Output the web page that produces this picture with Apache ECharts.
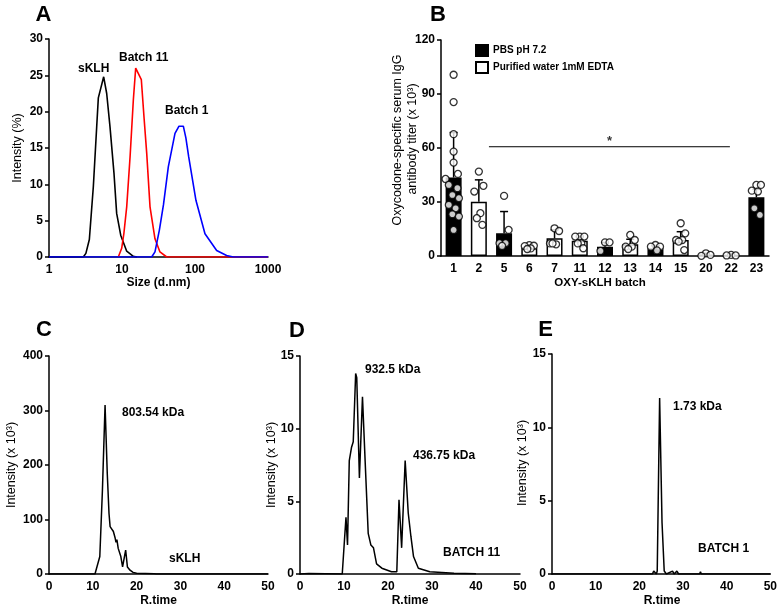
<!DOCTYPE html>
<html><head><meta charset="utf-8">
<script src="https://cdn.jsdelivr.net/npm/echarts@6/dist/echarts.min.js"></script>
<style>html,body{margin:0;padding:0;background:#fff}#c{width:780px;height:609px}</style>
</head><body><div id="c"></div>
<script>
// ---------- Panel A: DLS size distribution (x = size d.nm, y = intensity %) ----------
const dlsSKLH = [[1,0],[2.95,0],[3.2,0.5],[3.57,2.4],[4.05,9.7],[4.5,17.9],[4.74,21.9],[5.61,24.8],[6.17,22.5],[6.85,17.9],[7.77,11.5],[8.45,6.0],[9.6,3.0],[11.6,0.8],[14.3,0.1],[16,0]];
const dlsBatch11 = [[8.9,0],[9.9,1.2],[10.6,3.2],[11.6,6.9],[12.9,13.8],[14.3,21.6],[15.4,26],[16.1,25.8],[18.4,24.4],[20,19.3],[21.8,14.3],[24.2,6.9],[28.3,2.5],[33.1,0.7],[41,0],[1000,0]];
const dlsBatch1 = [[1,0],[25.5,0],[28.3,0.7],[32.5,3.7],[37,7.2],[43.1,12.4],[53.2,17],[60.4,18],[69.2,18],[75,16.4],[81.9,13.8],[103,7.8],[137,3.2],[198,0.9],[271,0.2],[335,0],[1000,0]];
const sizeTicks = [1,10,100,1000];

// ---------- Panel B: antibody titers ----------
const batches = ['1','2','5','6','7','11','12','13','14','15','20','22','23'];
const bufferOf = ['PBS','Water','PBS','Water','Water','Water','PBS','Water','PBS','Water','Water','Water','PBS'];
const meanTiter = [43.6,30.2,12.6,4.6,9.8,8.5,5.2,6.5,4.3,8.9,0.8,0.5,32.6];
const sdTop = [68.6,42.3,24.7,6.0,14.5,10.8,7.5,9.3,5.8,13.5,1.5,1.2,37.0];
const dotValues = [
  [100.7,85.5,67.7,58,51.9,45.6,42.8,39.5,37.7,33.9,32.1,28.4,26.5,23.2,21.9,14.5],
  [46.9,39,35.8,23.8,21,17.3],
  [33.4,14.5,7.1,7.1,5.6],
  [6.0,5.7,5.5,4.2,3.9],
  [15.4,13.9,7.0,6.5,7.0],
  [10.8,10.8,10.8,7.0,7.0,4.3],
  [7.6,7.6,2.8],
  [11.7,8.9,5.2,5.2,3.9],
  [6.1,5.2,5.2,3.1],
  [18.2,12.6,8.9,8.9,8.0,3.3],
  [1.5,0.6,0.1],
  [0.6,0.3,0.3],
  [39.5,39.5,36.3,35.8,26.5,22.8]
];
const titerTicks = {min:0, max:120, interval:30};
const sigBar = {from:1.4, to:10.95, level:60.7, text:'*'};

// ---------- Panels C, D, E: SEC chromatograms (x = R.time, y = intensity x10^3) ----------
const chromSKLH = [[0,0],[10.5,0],[10.9,1],[11.6,32],[12.2,154],[12.8,310],[13.3,185],[13.7,111],[13.95,87],[14.7,78],[15.1,66],[15.3,58],[15.5,63],[15.8,47],[16.4,32],[16.8,13],[17.1,10],[17.5,44],[17.9,13],[18.5,7],[19.2,3],[20,1.2],[24,0.5],[24.5,0],[50,0]];
const chromBatch11 = [[0,0],[2,0.03],[9.6,0],[10.1,2.3],[10.45,3.9],[10.8,2],[11.2,7.8],[11.7,8.7],[12.1,9.1],[12.65,13.8],[12.9,13.5],[13.5,6.6],[14.2,12.2],[14.8,7.8],[15.5,2.8],[16.1,2.0],[16.7,1.8],[17.4,0.7],[18.6,0.4],[20.8,0.15],[22,0.15],[22.5,5.1],[23.1,1.8],[23.9,7.8],[24.6,4.2],[25.2,2.6],[25.8,1.2],[26.9,0.4],[29.5,0.15],[35,0.05],[40,0.02]];
const chromBatch1 = [[0,0],[23,0],[23.3,0.2],[23.6,0.3],[23.9,0],[24.1,0.2],[24.65,12],[25.2,3.5],[25.7,0.2],[26.2,0],[27.6,0.2],[28,0],[28.6,0.2],[29,0],[33.8,0],[34,0.15],[34.2,0],[50,0]];
const rtTicks = {min:0, max:50, interval:10};

const FF = "'Liberation Sans', Arial, sans-serif";
const chart = echarts.init(document.getElementById('c'));

function axisBase(extra){
  return Object.assign({
    axisLine:{show:true, onZero:false, lineStyle:{color:'#000', width:1.5}},
    axisTick:{show:true, inside:false, length:4, lineStyle:{color:'#000', width:1.5}},
    axisLabel:{color:'#000', fontFamily:FF, fontWeight:'bold', fontSize:12, margin:6},
    splitLine:{show:false}
  }, extra);
}
function xBase(extra){
  const a = axisBase(extra);
  a.axisTick = {show:false};
  a.axisLabel = Object.assign({}, a.axisLabel, {margin:7});
  return a;
}
function lineSeries(data, xi, yi, color, w){
  return {type:'line', xAxisIndex:xi, yAxisIndex:yi, data:data, symbol:'none', smooth:false,
    lineStyle:{color:color, width:w}, z:3, silent:true, animation:false};
}
function txt(x, y, text, o){
  o = o || {};
  return {type:'text', x:x, y:y, rotation:o.rot||0, z:100,
    style:{text:text, fill:'#000', font:(o.weight||'bold')+' '+(o.size||12)+'px '+FF,
      align:o.align||'left', verticalAlign:'middle'}};
}

const jitterBar1 = [0,0,0,0,0,0.17,-0.32,-0.19,0.15,-0.05,0.21,-0.19,0.08,-0.05,0.21,0];
const jitterGen = [0,0.18,-0.18,0.06,-0.08,0.14,-0.14];
const dots = [];
dotValues.forEach((arr,i)=>arr.forEach((v,j)=>{
  const off = i===0 ? jitterBar1[j] : jitterGen[j % jitterGen.length];
  dots.push([i+off, v]);
}));

const option = {
  backgroundColor:'#fff',
  animation:false,
  grid:[
    {left:49, top:39, width:219, height:218},
    {left:441, top:40, width:328, height:216},
    {left:49, top:356, width:219, height:218},
    {left:300, top:356, width:220, height:218},
    {left:552, top:354, width:221, height:220}
  ],
  xAxis:[
    xBase({gridIndex:0, type:'log', logBase:10, min:sizeTicks[0], max:sizeTicks[sizeTicks.length-1],
      axisLabel:{color:'#000', fontFamily:FF, fontWeight:'bold', fontSize:12, margin:7, formatter:v=>String(Math.round(v))}}),
    xBase({gridIndex:1, type:'category', data:batches, axisLabel:{color:'#000', fontFamily:FF, fontWeight:'bold', fontSize:12, margin:7, interval:0}}),
    {gridIndex:1, type:'value', min:-0.5, max:batches.length-0.5, show:false},
    xBase({gridIndex:2, type:'value', min:rtTicks.min, max:rtTicks.max, interval:rtTicks.interval}),
    xBase({gridIndex:3, type:'value', min:rtTicks.min, max:rtTicks.max, interval:rtTicks.interval}),
    xBase({gridIndex:4, type:'value', min:rtTicks.min, max:rtTicks.max, interval:rtTicks.interval})
  ],
  yAxis:[
    axisBase({gridIndex:0, type:'value', min:0, max:30, interval:5}),
    axisBase({gridIndex:1, type:'value', min:titerTicks.min, max:titerTicks.max, interval:titerTicks.interval}),
    axisBase({gridIndex:2, type:'value', min:0, max:400, interval:100}),
    axisBase({gridIndex:3, type:'value', min:0, max:15, interval:5}),
    axisBase({gridIndex:4, type:'value', min:0, max:15, interval:5})
  ],
  legend:{
    data:['PBS pH 7.2','Purified water 1mM EDTA'], orient:'vertical', left:470, top:39,
    itemWidth:12, itemHeight:11, itemGap:4, icon:'rect', selectedMode:false,
    textStyle:{fontSize:10, fontWeight:'bold', fontFamily:FF, color:'#000'}
  },
  series:[
    lineSeries(dlsSKLH,0,0,'#000',1.6),
    lineSeries(dlsBatch11,0,0,'#ff0000',1.6),
    lineSeries(dlsBatch1,0,0,'#0000ff',1.6),
    {name:'PBS pH 7.2', type:'bar', xAxisIndex:1, yAxisIndex:1, barWidth:16, barGap:'-100%', z:2,
      data:meanTiter.map((v,i)=>bufferOf[i]==='PBS'?v:'-'),
      itemStyle:{color:'#000', borderColor:'#000', borderWidth:1.5}},
    {name:'Purified water 1mM EDTA', type:'bar', xAxisIndex:1, yAxisIndex:1, barWidth:16, barGap:'-100%', z:2,
      data:meanTiter.map((v,i)=>bufferOf[i]==='Water'?v:'-'),
      itemStyle:{color:'#fff', borderColor:'#000', borderWidth:1.5}},
    {type:'custom', xAxisIndex:1, yAxisIndex:1, z:3, silent:true,
      data:batches.map((b,i)=>[i, sdTop[i], meanTiter[i]]),
      renderItem:function(params, api){
        const top = api.coord([api.value(0), api.value(1)]);
        const base = api.coord([api.value(0), api.value(2)]);
        return {type:'group', children:[
          {type:'line', shape:{x1:base[0],y1:base[1],x2:top[0],y2:top[1]}, style:{stroke:'#000',lineWidth:1.5}},
          {type:'line', shape:{x1:top[0]-4,y1:top[1],x2:top[0]+4,y2:top[1]}, style:{stroke:'#000',lineWidth:1.5}}
        ]};
      }},
    {type:'scatter', xAxisIndex:2, yAxisIndex:1, data:dots, symbol:'circle', symbolSize:7, z:4, silent:true,
      itemStyle:{color:'#fff', borderColor:'#000', borderWidth:1.3}},
    {type:'line', xAxisIndex:2, yAxisIndex:1, symbol:'none', z:4, silent:true,
      data:[[sigBar.from, sigBar.level],[sigBar.to, sigBar.level]], lineStyle:{color:'#000', width:1}},
    {type:'scatter', xAxisIndex:2, yAxisIndex:1, symbolSize:0, z:4, silent:true,
      data:[[(sigBar.from+sigBar.to)/2, sigBar.level]],
      label:{show:true, position:'top', distance:-1, formatter:sigBar.text, color:'#000', fontWeight:'bold', fontSize:13, fontFamily:FF}},
    lineSeries(chromSKLH,3,2,'#000',1.5),
    lineSeries(chromBatch11,4,3,'#000',1.5),
    lineSeries(chromBatch1,5,4,'#000',1.5)
  ],
  graphic:[
    txt(43.5,15,'A',{size:22,align:'center'}),
    txt(438,15,'B',{size:22,align:'center'}),
    txt(44,330,'C',{size:22,align:'center'}),
    txt(297,331,'D',{size:22,align:'center'}),
    txt(545.5,330,'E',{size:22,align:'center'}),
    txt(18,148,'Intensity (%)',{rot:Math.PI/2,align:'center',weight:'normal',size:12.5}),
    txt(158.5,283,'Size (d.nm)',{align:'center'}),
    txt(78,69,'sKLH'),
    txt(119,57.5,'Batch 11'),
    txt(165,110.5,'Batch 1'),
    txt(398,140,'Oxycodone-specific serum IgG',{rot:Math.PI/2,align:'center',weight:'normal',size:12.5}),
    txt(413,139,'antibody titer (x 10\u00B3)',{rot:Math.PI/2,align:'center',weight:'normal',size:12.5}),
    txt(600,283,'OXY-sKLH batch',{align:'center',size:11.5}),
    txt(12,465,'Intensity (x 10\u00B3)',{rot:Math.PI/2,align:'center',weight:'normal',size:12.5}),
    txt(271.5,465,'Intensity (x 10\u00B3)',{rot:Math.PI/2,align:'center',weight:'normal',size:12.5}),
    txt(522.5,463,'Intensity (x 10\u00B3)',{rot:Math.PI/2,align:'center',weight:'normal',size:12.5}),
    txt(158.5,601,'R.time',{align:'center'}),
    txt(410,601,'R.time',{align:'center'}),
    txt(662,601,'R.time',{align:'center'}),
    txt(122,413,'803.54 kDa'),
    txt(169,559,'sKLH'),
    txt(365,370,'932.5 kDa'),
    txt(413,456,'436.75 kDa'),
    txt(443,553,'BATCH 11'),
    txt(673,407,'1.73 kDa'),
    txt(698,549,'BATCH 1')
  ]
};
chart.setOption(option);
</script></body></html>
